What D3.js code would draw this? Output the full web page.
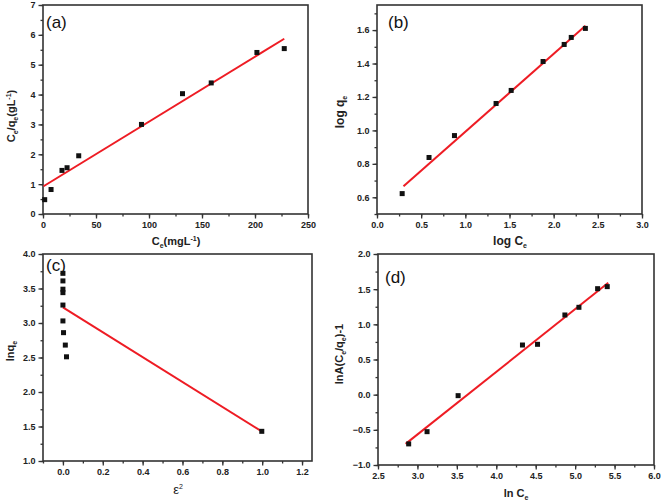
<!DOCTYPE html>
<html>
<head>
<meta charset="utf-8">
<script src="https://cdn.jsdelivr.net/npm/d3@7"></script>
<style>
  body { margin: 0; background: #fff; }
  text { font-family: "Liberation Sans", Arial, sans-serif; }
</style>
</head>
<body>
<div id="chart"></div>
<script>
// (a) Langmuir
const aCe = [1.6, 7.6, 17.9, 22.7, 33.7, 92.9, 131.6, 158.7, 201.8, 227.6];
const aCeQe = [0.48, 0.82, 1.46, 1.55, 1.95, 3.0, 4.03, 4.39, 5.41, 5.54];
const aFit = [[0.5, 0.93], [227.6, 5.87]];

// (b) Freundlich
const bLogCe = [0.285, 0.589, 0.877, 1.348, 1.519, 1.88, 2.119, 2.199, 2.359];
const bLogQe = [0.622, 0.838, 0.969, 1.161, 1.239, 1.412, 1.514, 1.556, 1.61];
const bFit = [[0.3, 0.666], [2.36, 1.626]];

// (c) D-R
const cEps2 = [0, 0, 0, 0, 0, 0, 0.003, 0.012, 0.018, 0.998];
const cLnQe = [3.72, 3.61, 3.49, 3.44, 3.26, 3.03, 2.86, 2.68, 2.51, 1.43];
const cFit = [[0, 3.227], [1.0, 1.425]];

// (d) Temkin
const dLnCe = [2.889, 3.122, 3.516, 4.332, 4.523, 4.87, 5.048, 5.285, 5.407];
const dY = [-0.70, -0.526, -0.014, 0.706, 0.716, 1.133, 1.242, 1.507, 1.536];
const dFit = [[2.85, -0.70], [5.42, 1.59]];

const panels = [
  {label: "(a)", xs: aCe, ys: aCeQe, fit: aFit,
   box: [43, 5, 308, 214], xd: [0, 250], yd: [0, 7],
   xMajor: 50, xMinor: 25, yMajor: 1, yMinor: 0.5, xFmt: "d", yFmt: "d",
   lab: [46, 28], xt: {x: 176, y: 245}, yt: {x: 15, y: 116}},
  {label: "(b)", xs: bLogCe, ys: bLogQe, fit: bFit,
   box: [377, 5, 642, 214], xd: [0, 3], yd: [0.5, 1.75],
   xMajor: 0.5, xMinor: 0.25, yMajor: 0.2, yMinor: 0.1, xFmt: ".1f", yFmt: ".1f",
   lab: [388, 28], xt: {x: 510, y: 245}, yt: {x: 344, y: 112}},
  {label: "(c)", xs: cEps2, ys: cLnQe, fit: cFit,
   box: [43, 254, 312, 461], xd: [-0.1, 1.25], yd: [1, 4],
   xMajor: 0.2, xMinor: 0.1, yMajor: 0.5, yMinor: 0.25, xFmt: ".1f", yFmt: ".1f",
   lab: [46, 271], xt: {x: 178, y: 494}, yt: {x: 14, y: 351}},
  {label: "(d)", xs: dLnCe, ys: dY, fit: dFit,
   box: [378, 254, 654, 465], xd: [2.5, 6], yd: [-1, 2],
   xMajor: 0.5, xMinor: 0.25, yMajor: 0.5, yMinor: 0.25, xFmt: ".1f", yFmt: ".1f",
   lab: [385, 283], xt: {x: 516, y: 497}, yt: {x: 343, y: 354}}
];

const svg = d3.select("#chart").append("svg")
  .attr("width", 661).attr("height", 503);

function ticksFrom(d, step) {
  const out = [];
  const start = Math.ceil(d[0] / step - 1e-9) * step;
  for (let v = start; v <= d[1] + 1e-9; v += step) out.push(+v.toFixed(6));
  return out;
}

panels.forEach(p => {
  const [x0, y0, x1, y1] = p.box;
  const x = d3.scaleLinear().domain(p.xd).range([x0, x1]);
  const y = d3.scaleLinear().domain(p.yd).range([y1, y0]);
  const g = svg.append("g");

  // minor ticks
  const xMin = ticksFrom(p.xd, p.xMinor);
  const yMin = ticksFrom(p.yd, p.yMinor);
  g.append("g").attr("transform", "translate(0," + y1 + ")")
    .call(d3.axisBottom(x).tickValues(xMin).tickSize(2.5).tickFormat(""))
    .call(a => a.select(".domain").remove());
  g.append("g").attr("transform", "translate(" + x0 + ",0)")
    .call(d3.axisLeft(y).tickValues(yMin).tickSize(2.5).tickFormat(""))
    .call(a => a.select(".domain").remove());

  // major ticks + labels
  const xa = g.append("g").attr("transform", "translate(0," + y1 + ")")
    .call(d3.axisBottom(x).tickValues(ticksFrom(p.xd, p.xMajor))
      .tickSize(4.5).tickPadding(3).tickFormat(d3.format(p.xFmt)));
  const ya = g.append("g").attr("transform", "translate(" + x0 + ",0)")
    .call(d3.axisLeft(y).tickValues(ticksFrom(p.yd, p.yMajor))
      .tickSize(4.5).tickPadding(3).tickFormat(d3.format(p.yFmt)));
  [xa, ya].forEach(a => {
    a.select(".domain").remove();
    a.selectAll("text").attr("font-size", 9).attr("font-weight", "bold")
      .attr("fill", "#222").attr("font-family", "Liberation Sans, Arial, sans-serif");
  });
  g.selectAll(".tick line").attr("stroke", "#333").attr("stroke-width", 1.3);

  // frame
  g.append("rect").attr("x", x0).attr("y", y0)
    .attr("width", x1 - x0).attr("height", y1 - y0)
    .attr("fill", "none").attr("stroke", "#333").attr("stroke-width", 1.6);

  // fit line
  g.append("line")
    .attr("x1", x(p.fit[0][0])).attr("y1", y(p.fit[0][1]))
    .attr("x2", x(p.fit[1][0])).attr("y2", y(p.fit[1][1]))
    .attr("stroke", "#ee1c24").attr("stroke-width", 2);

  // points
  g.selectAll(".pt").data(p.xs.map((v, i) => [v, p.ys[i]])).enter()
    .append("rect")
    .attr("x", d => x(d[0]) - 2.5).attr("y", d => y(d[1]) - 2.5)
    .attr("width", 5).attr("height", 5).attr("fill", "#111");

  // panel label
  g.append("text").attr("x", p.lab[0]).attr("y", p.lab[1])
    .attr("font-size", 17).attr("fill", "#111").text(p.label);
});

// axis titles
function xTitle(p, build) {
  const t = svg.append("text").attr("x", p.xt.x).attr("y", p.xt.y)
    .attr("text-anchor", "middle").attr("font-size", 11)
    .attr("font-weight", "bold").attr("fill", "#222");
  build(t);
}
function yTitle(p, build) {
  const t = svg.append("text")
    .attr("transform", "translate(" + p.yt.x + "," + p.yt.y + ") rotate(-90)")
    .attr("text-anchor", "middle").attr("font-size", 11)
    .attr("font-weight", "bold").attr("fill", "#222");
  build(t);
}
function sub(t, s, dy) {
  t.append("tspan").attr("font-size", 7).attr("dy", dy).text(s);
}

// (a)
xTitle(panels[0], t => {
  t.append("tspan").text("C");
  sub(t, "e", 3);
  t.append("tspan").attr("dy", -3).text("(mgL");
  sub(t, "-1", -4);
  t.append("tspan").attr("dy", 4).text(")");
});
yTitle(panels[0], t => {
  t.append("tspan").text("C");
  sub(t, "e", 3);
  t.append("tspan").attr("dy", -3).text("/q");
  sub(t, "e", 3);
  t.append("tspan").attr("dy", -3).text("(gL");
  sub(t, "-1", -4);
  t.append("tspan").attr("dy", 4).text(")");
});
// (b)
xTitle(panels[1], t => {
  t.attr("font-size", 12);
  t.append("tspan").text("log C");
  sub(t, "e", 3);
});
yTitle(panels[1], t => {
  t.attr("font-size", 12);
  t.append("tspan").text("log q");
  sub(t, "e", 3);
});
// (c)
xTitle(panels[2], t => {
  t.attr("font-weight", "normal").attr("font-size", 13);
  t.append("tspan").text("ε");
  sub(t, "2", -5);
});
yTitle(panels[2], t => {
  t.append("tspan").text("lnq");
  sub(t, "e", 3);
});
// (d)
xTitle(panels[3], t => {
  t.append("tspan").text("ln C");
  sub(t, "e", 3);
});
yTitle(panels[3], t => {
  t.append("tspan").text("lnA(C");
  sub(t, "e", 3);
  t.append("tspan").attr("dy", -3).text("/q");
  sub(t, "e", 3);
  t.append("tspan").attr("dy", -3).text(")-1");
});
</script>
</body>
</html>
